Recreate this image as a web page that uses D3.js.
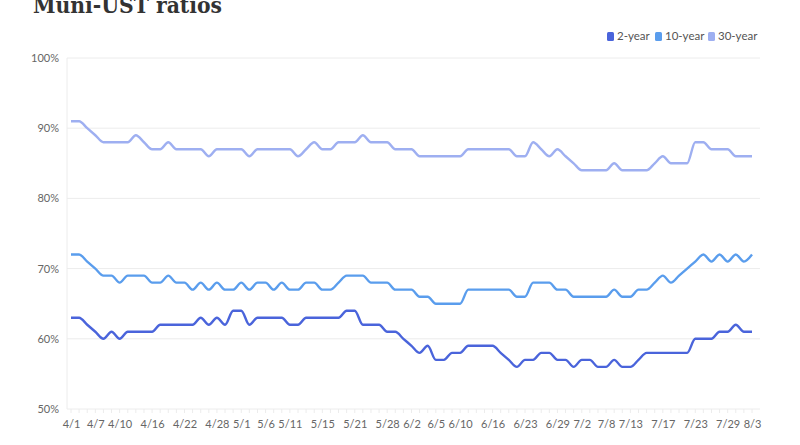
<!DOCTYPE html>
<html>
<head>
<meta charset="utf-8">
<script src="https://cdn.jsdelivr.net/npm/d3@7"></script>
<style>
  body { margin: 0; background: #fff; }
  svg { display: block; }
</style>
</head>
<body>
<script>
// trading days shown on the chart
let dates = ["4/1","4/2","4/6","4/7","4/8","4/9","4/10","4/13","4/14","4/15","4/16","4/17","4/20","4/21","4/22","4/23","4/24","4/27","4/28","4/29","4/30",
  "5/1","5/4","5/5","5/6","5/7","5/8","5/11","5/12","5/13","5/14","5/15","5/18","5/19","5/20","5/21","5/22","5/26","5/27","5/28","5/29",
  "6/1","6/2","6/3","6/4","6/5","6/8","6/9","6/10","6/11","6/12","6/15","6/16","6/17","6/18","6/22","6/23","6/24","6/25","6/26","6/29","6/30",
  "7/1","7/2","7/6","7/7","7/8","7/9","7/10","7/13","7/14","7/15","7/16","7/17","7/20","7/21","7/22","7/23","7/24","7/27","7/28","7/29","7/30","7/31","8/3"];

let twoYear = [63,63,62,61,60,61,60,61,61,61,61,62,62,62,62,62,63,62,63,62,64,
  64,62,63,63,63,63,62,62,63,63,63,63,63,64,64,62,62,62,61,61,
  60,59,58,59,57,57,58,58,59,59,59,59,58,57,56,57,57,58,58,57,57,
  56,57,57,56,56,57,56,56,57,58,58,58,58,58,58,60,60,60,61,61,62,61,61];

let tenYear = [72,72,71,70,69,69,68,69,69,69,68,68,69,68,68,67,68,67,68,67,67,
  68,67,68,68,67,68,67,67,68,68,67,67,68,69,69,69,68,68,68,67,
  67,67,66,66,65,65,65,65,67,67,67,67,67,67,66,66,68,68,68,67,67,
  66,66,66,66,66,67,66,66,67,67,68,69,68,69,70,71,72,71,72,71,72,71,72];

let thirtyYear = [91,91,90,89,88,88,88,88,89,88,87,87,88,87,87,87,87,86,87,87,87,
  87,86,87,87,87,87,87,86,87,88,87,87,88,88,88,89,88,88,88,87,
  87,87,86,86,86,86,86,86,87,87,87,87,87,87,86,86,88,87,86,87,86,
  85,84,84,84,84,85,84,84,84,84,85,86,85,85,85,88,88,87,87,87,86,86,86];

let xTickLabels = ["4/1","4/7","4/10","4/16","4/22","4/28","5/1","5/6","5/11","5/15","5/21","5/28",
  "6/2","6/5","6/10","6/16","6/23","6/29","7/2","7/8","7/13","7/17","7/23","7/29","8/3"];
let yTicks = [50, 60, 70, 80, 90, 100];

let seriesNames = ["2-year", "10-year", "30-year"];
let seriesColors = ["#4a64db", "#5a9ded", "#9eaff1"];

let w = 800, h = 445;
let plotLeft = 67, plotRight = 760, plotTop = 58, plotBottom = 409;

let svg = d3.select("body").append("svg").attr("width", w).attr("height", h);

let x = d3.scalePoint().domain(dates).range([71, 752]);
let y = d3.scaleLinear().domain([50, 100]).range([plotBottom, plotTop]);

// title, mostly cut off at the top
svg.append("text")
  .attr("x", 33).attr("y", 12.5)
  .attr("font-family", "DejaVu Serif, serif")
  .attr("font-weight", "bold")
  .attr("font-size", "23px")
  .attr("textLength", 189)
  .attr("lengthAdjust", "spacingAndGlyphs")
  .attr("fill", "#333")
  .text("Muni-UST ratios");

// gridlines
svg.append("g")
  .selectAll("line")
  .data(yTicks)
  .enter().append("line")
  .attr("x1", plotLeft).attr("x2", plotRight)
  .attr("y1", d => y(d)).attr("y2", d => y(d))
  .attr("stroke", "#ececec").attr("stroke-width", 1);

svg.append("line")
  .attr("x1", plotLeft).attr("x2", plotLeft)
  .attr("y1", plotTop).attr("y2", plotBottom)
  .attr("stroke", "#ececec");

// minor ticks at each day
svg.append("g")
  .selectAll("line")
  .data(dates)
  .enter().append("line")
  .attr("x1", d => x(d)).attr("x2", d => x(d))
  .attr("y1", plotBottom).attr("y2", plotBottom + 4)
  .attr("stroke", "#ececec");

// y labels
svg.append("g")
  .selectAll("text")
  .data(yTicks)
  .enter().append("text")
  .attr("x", 59).attr("y", d => y(d) + 4)
  .attr("text-anchor", "end")
  .attr("font-family", "Lato, sans-serif")
  .attr("font-size", "11px")
  .attr("fill", "#666")
  .text(d => d + "%");

// x axis
let xAxis = svg.append("g")
  .attr("transform", "translate(0," + plotBottom + ")")
  .call(d3.axisBottom(x).tickValues(xTickLabels).tickSize(0).tickPadding(11));
xAxis.select(".domain").remove();
xAxis.selectAll("text")
  .attr("font-family", "Lato, sans-serif")
  .attr("font-size", "11px")
  .attr("fill", "#666");

// lines
let line = d3.line()
  .x((d, i) => x(dates[i]))
  .y(d => y(d))
  .curve(d3.curveMonotoneX);

[twoYear, tenYear, thirtyYear].forEach(function (vals, k) {
  svg.append("path")
    .datum(vals)
    .attr("d", line)
    .attr("fill", "none")
    .attr("stroke", seriesColors[k])
    .attr("stroke-width", 2.4)
    .attr("stroke-linejoin", "round");
});

// legend
let legendX = [607, 655, 708];
let legend = svg.append("g")
  .selectAll("g")
  .data(seriesNames)
  .enter().append("g")
  .attr("transform", (d, i) => "translate(" + legendX[i] + ",32)");
legend.append("rect")
  .attr("width", 7).attr("height", 9).attr("rx", 1.5)
  .attr("fill", (d, i) => seriesColors[i]);
legend.append("text")
  .attr("x", 10).attr("y", 8)
  .attr("font-family", "Lato, sans-serif")
  .attr("font-size", "11.5px")
  .attr("fill", "#555")
  .text(d => d);

// source line, cut off at the bottom
svg.append("text")
  .attr("x", 33).attr("y", 453)
  .attr("font-family", "Lato, sans-serif")
  .attr("font-size", "11px")
  .attr("fill", "#777")
  .text("Source: ICE");
</script>
</body>
</html>
